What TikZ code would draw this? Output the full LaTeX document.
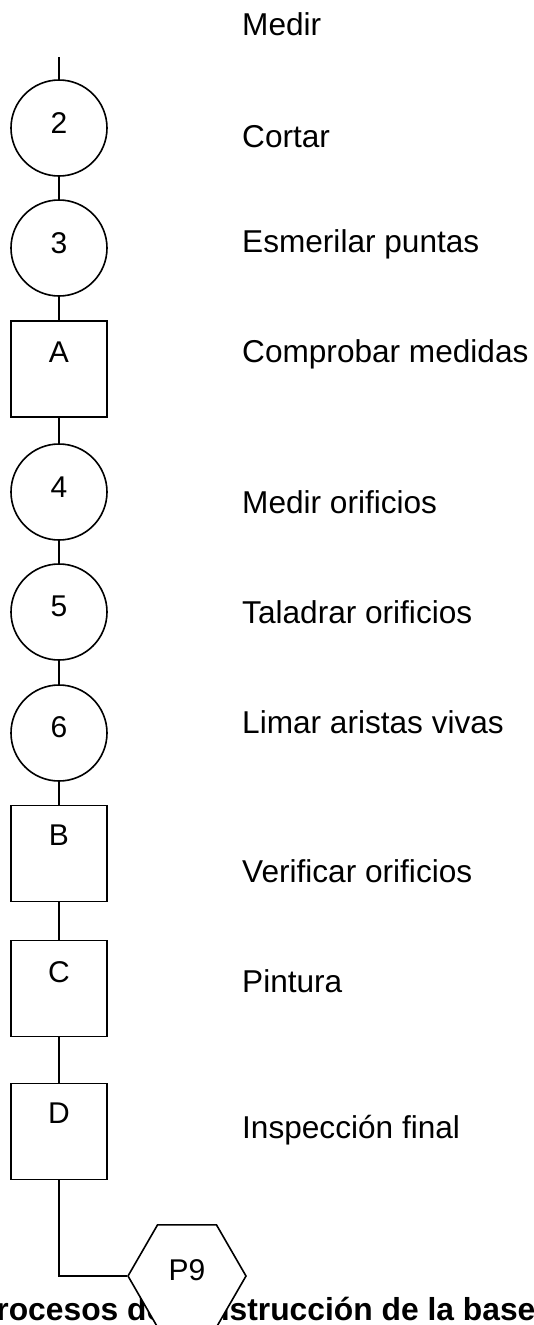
\documentclass[tikz,border=0pt]{standalone}
\usepackage{fontspec}
\setmainfont{Liberation Sans}
\usetikzlibrary{shapes.geometric}
\tikzset{
  ln/.style={line width=1.6pt},
  circ/.style={draw, circle, line width=1.6pt, minimum size=96pt, inner sep=0pt},
  sq/.style={draw, rectangle, line width=1.6pt, minimum size=96pt, inner sep=0pt},
  hexa/.style={draw, fill=white, regular polygon, regular polygon sides=6, minimum size=118pt, inner sep=0pt, line width=1.6pt},
  num/.style={anchor=base, inner sep=0pt, font=\fontsize{30}{34}\selectfont},
  desc/.style={anchor=base west, inner sep=0pt, font=\fontsize{31.6}{36}\selectfont},
}
\begin{document}
\begin{tikzpicture}[x=1pt,y=-1pt]
\useasboundingbox (0,0) rectangle (534,1325);
% caption (partly hidden by hexagon)
\node[anchor=base west, inner sep=0pt, font=\bfseries\fontsize{31.8}{36}\selectfont] (cap) at (-25,1320) {Procesos de construcción de la base};
% symbols
\coordinate (top) at (59,57);
\node[circ] (c2) at (59,128) {};
\node[circ] (c3) at (59,248) {};
\node[sq] (A) at (59,369) {};
\node[circ] (c4) at (59,492) {};
\node[circ] (c5) at (59,612) {};
\node[circ] (c6) at (59,733) {};
\node[sq] (B) at (59,853.5) {};
\node[sq] (C) at (59,988.5) {};
\node[sq] (D) at (59,1131.5) {};
% connectors
\draw[ln] (top) -- (c2);
\draw[ln] (c2) -- (c3);
\draw[ln] (c3) -- (A);
\draw[ln] (A) -- (c4);
\draw[ln] (c4) -- (c5);
\draw[ln] (c5) -- (c6);
\draw[ln] (c6) -- (B);
\draw[ln] (B) -- (C);
\draw[ln] (C) -- (D);
\node[hexa] (hex) at (187,1276) {};
\draw[ln] (D.south) |- (hex.west);
% labels in symbols
\node[num] (l2) at (59,133.5) {2};
\node[num] (l3) at (59,253.5) {3};
\node[num] (lA) at (59,362) {A};
\node[num] (l4) at (59,497) {4};
\node[num] (l5) at (59,616) {5};
\node[num] (l6) at (59,737.5) {6};
\node[num] (lB) at (59,845.5) {B};
\node[num] (lC) at (59,982) {C};
\node[num] (lD) at (59,1123.5) {D};
\node[num] (lP) at (187,1280) {P9};
% descriptions
\node[desc] (d1) at (242,35) {Medir};
\node[desc] (d2) at (242,147) {Cortar};
\node[desc] (d3) at (242,252) {Esmerilar puntas};
\node[desc] (d4) at (242,362) {Comprobar medidas};
\node[desc] (d5) at (242,513) {Medir orificios};
\node[desc] (d6) at (242,623) {Taladrar orificios};
\node[desc] (d7) at (242,733) {Limar aristas vivas};
\node[desc] (d8) at (242,882) {Verificar orificios};
\node[desc] (d9) at (242,992) {Pintura};
\node[desc] (d10) at (242,1138) {Inspección final};
\end{tikzpicture}
\end{document}
